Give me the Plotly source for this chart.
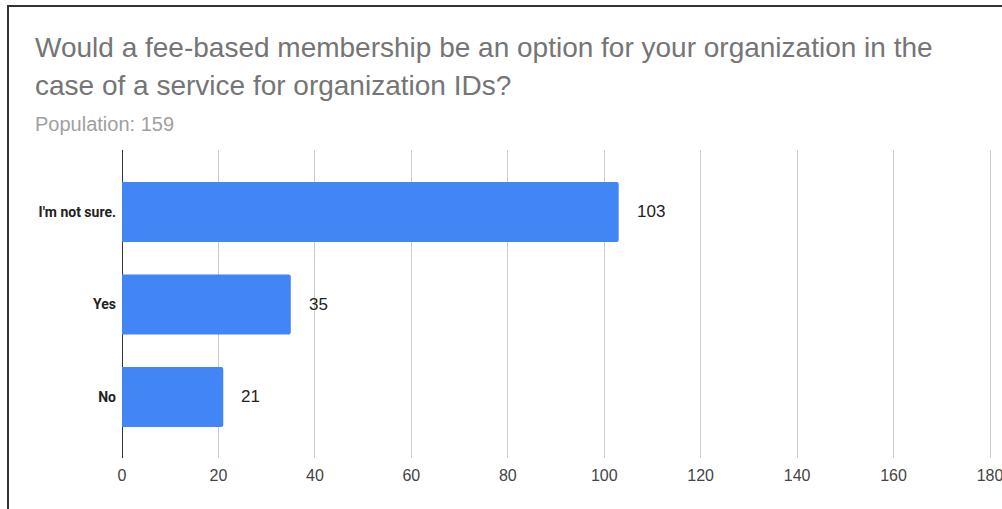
import plotly.graph_objects as go

categories = ["I'm not sure.", "Yes", "No"]
values = [103, 35, 21]
x_ticks = [0, 20, 40, 60, 80, 100, 120, 140, 160, 180]
title_lines = ["Would a fee-based membership be an option for your organization in the",
               "case of a service for organization IDs?"]
subtitle = "Population: 159"

W, H = 1002, 509
L, R, T, B = 122, 7, 150, 51
PW, PH = W - L - R, H - T - B
X_MAX = 180 * PW / 868.0

def px(xp):
    return (xp - L) / PW

def py(yp):
    return (H - B - yp) / PH

fig = go.Figure()
fig.add_trace(go.Bar(
    y=categories, x=values, orientation="h",
    marker=dict(color="#4285F4", cornerradius=2, line=dict(width=0)),
    width=0.65, hoverinfo="x+y",
))

annotations = []
for c, v in zip(categories, values):
    annotations.append(dict(
        x=v, y=c, xref="x", yref="y", text=str(v), showarrow=False,
        xanchor="left", yanchor="middle", xshift=16,
        font=dict(family="Liberation Sans, Arial, sans-serif", size=17, color="#222222"),
    ))
for i, line in enumerate(title_lines):
    annotations.append(dict(
        x=px(33), y=py(48 + 38 * i), xref="paper", yref="paper", text=line,
        showarrow=False, xanchor="left", yanchor="middle",
        font=dict(family="Liberation Sans, Arial, sans-serif", size=28, color="#757575"),
    ))
annotations.append(dict(
    x=px(33), y=py(124), xref="paper", yref="paper", text=subtitle,
    showarrow=False, xanchor="left", yanchor="middle",
    font=dict(family="Liberation Sans, Arial, sans-serif", size=20, color="#A0A0A0"),
))

fig.update_layout(
    width=W, height=H,
    margin=dict(l=L, r=R, t=T, b=B, pad=0, autoexpand=False),
    plot_bgcolor="white", paper_bgcolor="white",
    showlegend=False,
    annotations=annotations,
    shapes=[dict(type="rect", xref="paper", yref="paper",
                 x0=px(8), x1=px(1012), y0=py(6), y1=py(520),
                 line=dict(color="#333333", width=2), fillcolor="rgba(0,0,0,0)", layer="above")],
    xaxis=dict(
        range=[0, X_MAX], tickvals=x_ticks, ticktext=[str(t) for t in x_ticks],
        showgrid=True, gridcolor="#CCCCCC", gridwidth=1,
        zeroline=True, zerolinecolor="#333333", zerolinewidth=1,
        showline=False, ticks="", ticklabeloverflow="allow", automargin=False,
        tickfont=dict(family="Liberation Sans, Arial, sans-serif", size=16, color="#444444"),
        ticklabelstandoff=6,
    ),
    yaxis=dict(
        range=[2.66, -0.67], showgrid=False, zeroline=False, showline=False, ticks="",
        automargin=False,
        tickfont=dict(family="Roboto, sans-serif", size=14, color="#222222", weight="bold"),
        ticklabelstandoff=5,
    ),
)

fig.write_html("out.html", config={"displayModeBar": False},
               post_script="document.body.style.margin='0';")
